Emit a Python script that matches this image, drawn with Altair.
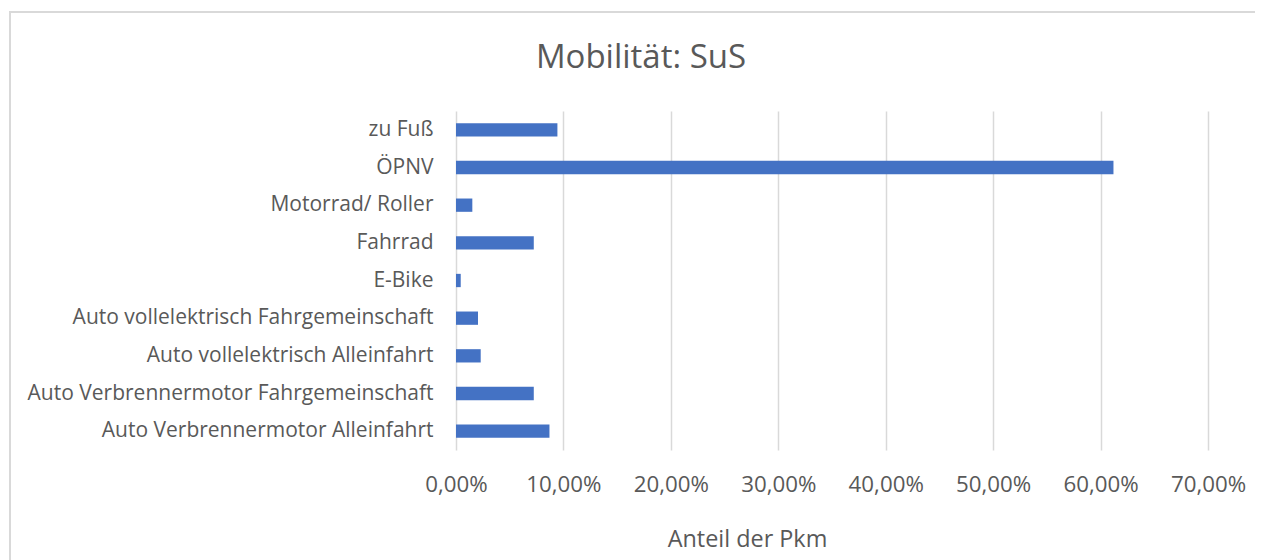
import altair as alt
import pandas as pd

categories = [
    "zu Fuß",
    "ÖPNV",
    "Motorrad/ Roller",
    "Fahrrad",
    "E-Bike",
    "Auto vollelektrisch Fahrgemeinschaft",
    "Auto vollelektrisch Alleinfahrt",
    "Auto Verbrennermotor Fahrgemeinschaft",
    "Auto Verbrennermotor Alleinfahrt",
]
shares = [0.0944, 0.612, 0.0152, 0.0724, 0.0044, 0.0205, 0.023, 0.0724, 0.087]
tick_values = [0, 0.1, 0.2, 0.3, 0.4, 0.5, 0.6, 0.7]

df = pd.DataFrame({"Kategorie": categories, "Anteil": shares})

FONT = "Open Sans"
GREY = "#595959"
W, H = 752, 339

bars = alt.Chart(df).mark_bar(color="#4472C4").encode(
    x=alt.X(
        "Anteil:Q",
        scale=alt.Scale(domain=[0, 0.7], nice=False),
        axis=alt.Axis(
            values=tick_values,
            labelExpr="replace(format(datum.value, '.2%'), '.', ',')",
            grid=True,
            gridColor="#d9d9d9",
            gridWidth=1.5,
            domain=False,
            ticks=False,
            labelFont=FONT,
            labelFontSize=22.3,
            labelColor=GREY,
            labelBaseline="alphabetic",
            labelPadding=41,
            labelOverlap=False,
            labelFlush=False,
            labelBound=False,
            title="Anteil der Pkm",
            titleFont=FONT,
            titleFontSize=23.4,
            titleFontWeight="normal",
            titleColor=GREY,
            titleX=291,
            titleY=96,
            titleBaseline="alphabetic",
            titleAlign="center",
        ),
    ),
    y=alt.Y(
        "Kategorie:N",
        sort=categories,
        scale=alt.Scale(paddingInner=0.647, paddingOuter=0.3235),
        axis=alt.Axis(
            grid=False,
            domain=False,
            ticks=False,
            labelFont=FONT,
            labelFontSize=21,
            labelColor=GREY,
            labelPadding=23,
            labelLimit=500,
            labelOverlap=False,
            title=None,
        ),
    ),
)

frame = alt.Chart(df).mark_rect(
    fill=None, stroke="#d9d9d9", strokeWidth=1.5
).encode(
    x=alt.value(-446), x2=alt.value(W + 100), y=alt.value(-99), y2=alt.value(H + 200)
)

chart = alt.layer(frame, bars).properties(
    width=W,
    height=H,
    title=alt.TitleParams(
        "Mobilität: SuS",
        font=FONT,
        fontSize=33,
        fontWeight="normal",
        color=GREY,
        anchor="middle",
        frame="group",
        dx=-191,
        baseline="alphabetic",
        offset=-90,
    ),
    autosize=alt.AutoSizeParams(type="none"),
    padding={"left": 448, "top": 103, "right": 47, "bottom": 110},
).configure(background="white").configure_view(stroke=None)

chart.save("out.html", embed_options={"renderer": "svg", "actions": False})
